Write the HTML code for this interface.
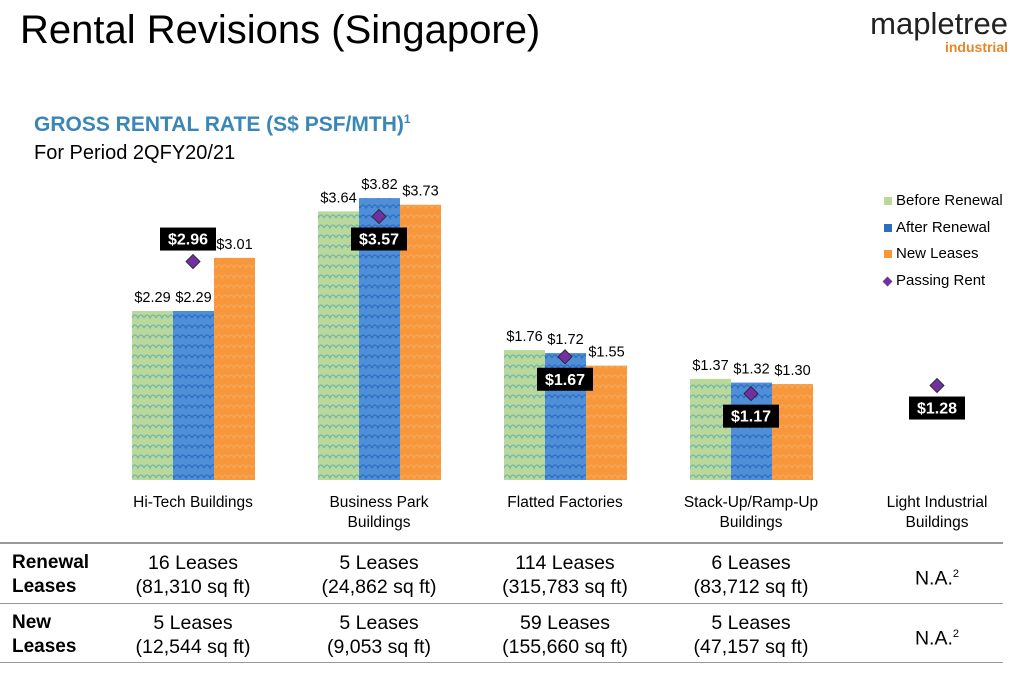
<!DOCTYPE html>
<html><head><meta charset="utf-8"><style>
body{margin:0;width:1013px;height:674px;background:#fff;font-family:"Liberation Sans",sans-serif;overflow:hidden;position:relative}
.abs{position:absolute}
</style></head><body>
<div class="abs" style="left:20px;top:8px;font-size:40px;color:#000">Rental Revisions (Singapore)</div>
<div class="abs" style="left:846px;top:6px;width:162px;text-align:right">
<div style="font-size:31px;color:#222;line-height:36px">mapletree</div>
<div style="font-size:14px;font-weight:bold;color:#e8862a;margin-top:-3px">industrial</div></div>
<div class="abs" style="left:34px;top:112px;font-size:21px;font-weight:bold;color:#3a86b4">GROSS RENTAL RATE (S$ PSF/MTH)<sup style="font-size:12px">1</sup></div>
<div class="abs" style="left:34px;top:142px;font-size:20px;color:#000">For Period 2QFY20/21</div>
<svg id="chart" class="abs" style="left:0;top:0" width="1013" height="674">
<defs>
<pattern id="pg" width="12" height="10" patternUnits="userSpaceOnUse"><rect width="12" height="10" fill="#b9d89a"/><path d="M0 8 Q3 2 6 8 Q9 2 12 8" stroke="#6fb7b0" stroke-width="1.3" fill="none"/></pattern>
<pattern id="pb" width="12" height="10" patternUnits="userSpaceOnUse"><rect width="12" height="10" fill="#4f8fd8"/><path d="M0 8 Q3 2 6 8 Q9 2 12 8" stroke="#2e6cc0" stroke-width="1.3" fill="none"/></pattern>
<pattern id="po" width="12" height="10" patternUnits="userSpaceOnUse"><rect width="12" height="10" fill="#f7963a"/><path d="M0 8 Q3 2 6 8 Q9 2 12 8" stroke="#f5a85a" stroke-width="1.3" fill="none"/></pattern>
</defs>
</svg>
<div class="abs" style="left:884px;top:188px;font-size:15px;line-height:26.5px;color:#000">
<div><span style="display:inline-block;width:8px;height:8px;background:#b9d89a;margin-right:4px"></span>Before Renewal</div>
<div><span style="display:inline-block;width:8px;height:8px;background:#2e6cc0;margin-right:4px"></span>After Renewal</div>
<div><span style="display:inline-block;width:8px;height:8px;background:#f7963a;margin-right:4px"></span>New Leases</div>
<div><span style="display:inline-block;width:7px;height:7px;background:#7030a0;transform:rotate(45deg);margin-right:5px"></span>Passing Rent</div>
</div>
<div class="abs" style="left:0;top:542px;width:1003px;height:2px;background:#999"></div>
<div class="abs" style="left:0;top:603px;width:1003px;height:1px;background:#999"></div>
<div class="abs" style="left:0;top:662px;width:1003px;height:1px;background:#999"></div>
<div id="tbl"></div>
<script>
const categories=["Hi-Tech Buildings","Business Park Buildings","Flatted Factories","Stack-Up/Ramp-Up Buildings","Light Industrial Buildings"];
const catLines=[["Hi-Tech Buildings"],["Business Park","Buildings"],["Flatted Factories"],["Stack-Up/Ramp-Up","Buildings"],["Light Industrial","Buildings"]];
const beforeRenewal=[2.29,3.64,1.76,1.37,null];
const afterRenewal=[2.29,3.82,1.72,1.32,null];
const newLeases=[3.01,3.73,1.55,1.30,null];
const passingRent=[2.96,3.57,1.67,1.17,1.28];
const renewalRow=[["16 Leases","(81,310 sq ft)"],["5 Leases","(24,862 sq ft)"],["114 Leases","(315,783 sq ft)"],["6 Leases","(83,712 sq ft)"],["N.A.",""]];
const newRow=[["5 Leases","(12,544 sq ft)"],["5 Leases","(9,053 sq ft)"],["59 Leases","(155,660 sq ft)"],["5 Leases","(47,157 sq ft)"],["N.A.",""]];
const svg=document.getElementById('chart');const NS="http://www.w3.org/2000/svg";
const base=480,k=73.8;const y=v=>base-v*k;const cx=i=>193+i*186;
function mk(t,a,p){const e=document.createElementNS(NS,t);for(const q in a)e.setAttribute(q,a[q]);(p||svg).appendChild(e);return e;}
const series=[[beforeRenewal,"url(#pg)",-61],[afterRenewal,"url(#pb)",-20],[newLeases,"url(#po)",21]];
categories.forEach((c,i)=>{
 series.forEach(([arr,fill,off],s)=>{const v=arr[i];if(v==null)return;
  const r=mk('rect',{x:cx(i)+off,y:y(v),width:41,height:v*k,fill:fill});
  
  
  const t=mk('text',{x:cx(i)+off+20.5,y:y(v)-9,'text-anchor':'middle','font-size':14.5,fill:'#000'});t.textContent='$'+v.toFixed(2);
  
  });
 const pv=passingRent[i],py=y(pv);
 const d=mk('rect',{x:cx(i)-5,y:py-5,width:10,height:10,fill:'#7030a0',stroke:'#222','stroke-width':0.8,transform:`rotate(45 ${cx(i)} ${py})`});
 
 
 const above=i==0;const by=above?py-34:py+11;const bx=above?cx(i)-5:cx(i);
 const b=mk('rect',{x:bx-28,y:by,width:56,height:23,fill:'#000'});
 
 
 const lt=mk('text',{x:bx,y:by+17,'text-anchor':'middle','font-size':16,'font-weight':'bold',fill:'#fff'});lt.textContent='$'+pv.toFixed(2);
 
 
 catLines[i].forEach((l,j)=>{const t=mk('text',{x:cx(i),y:507+j*20,'text-anchor':'middle','font-size':15.5,fill:'#000'});t.textContent=l;
  
  });
});
let h='';
const rows=[[renewalRow,"Renewal<br>Leases",551],[newRow,"New<br>Leases",611]];
rows.forEach(([row,lab,top])=>{
 h+=`<div class="abs" style="left:12px;top:${top}px;font-size:19px;font-weight:bold;line-height:24px">${lab}</div>`;
 row.forEach((c,i)=>{const na=c[1]==='';
  h+=`<div class="abs" style="left:${cx(i)-100}px;width:200px;text-align:center;top:${na?top+11:top}px;font-size:19.5px;line-height:24px">${c[0]}${na?'<sup style="font-size:11px">2</sup>':'<br>'+c[1]}</div>`;});
});
document.getElementById('tbl').innerHTML=h;
</script>
</body></html>
